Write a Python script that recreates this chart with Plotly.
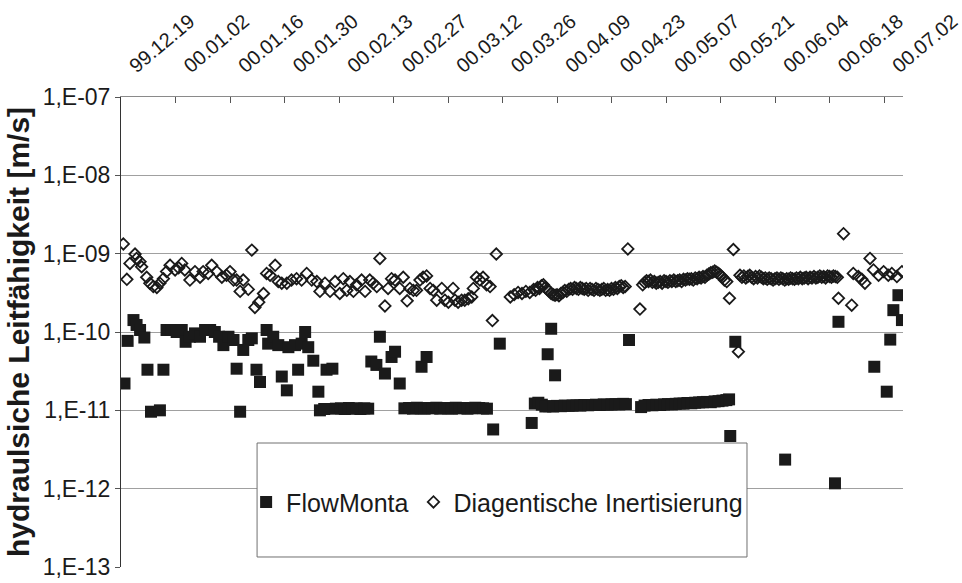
import pandas as pd
import plotly.graph_objects as go

START_DATE = "1999-12-19"
X_END = "2000-07-06 21:00"

TICK_DATES = ["1999-12-19", "2000-01-02", "2000-01-16", "2000-01-30", "2000-02-13",
              "2000-02-27", "2000-03-12", "2000-03-26", "2000-04-09", "2000-04-23",
              "2000-05-07", "2000-05-21", "2000-06-04", "2000-06-18", "2000-07-02"]
TICK_LABELS = ["99.12.19", "00.01.02", "00.01.16", "00.01.30", "00.02.13",
               "00.02.27", "00.03.12", "00.03.26", "00.04.09", "00.04.23",
               "00.05.07", "00.05.21", "00.06.04", "00.06.18", "00.07.02"]

Y_TICKS = [1e-13, 1e-12, 1e-11, 1e-10, 1e-9, 1e-8, 1e-7]
Y_LABELS = ["1,E-13", "1,E-12", "1,E-11", "1,E-10", "1,E-09", "1,E-08", "1,E-07"]

# FlowMonta: days since 1999-12-19 and hydraulic conductivity [m/s]
FLOW_DAYS = [
    0.9, 1.7, 3.2, 4.0, 4.9, 6.0, 6.8, 7.7, 10.0, 10.9, 11.7, 13.0, 14.3, 15.6, 16.6,
    17.7, 19.0, 20.3, 21.6, 22.9, 24.1, 25.2, 26.3, 27.6, 28.9, 29.7, 30.6, 31.4, 32.7,
    33.6, 34.8, 35.7, 37.4, 37.8, 39.1, 40.4, 41.3, 42.6, 43.0, 44.7, 45.5, 46.4, 47.3,
    48.1, 49.4, 50.7, 51.1, 52.2, 52.8, 54.3, 55.2, 56.5, 57.5, 58.5, 59.5, 60.5, 61.5,
    62.5, 63.5, 64.3, 65.6, 66.5, 67.8, 69.5, 70.4, 71.6, 72.8,
    74, 75, 76, 77, 78, 79, 80, 81, 82, 83, 84, 85, 86, 87, 88, 89, 90, 91, 92, 93, 94,
    77.2, 78.5, 95.6, 97.3, 105.5,
    106.3, 107.2, 108.1, 109, 110, 111, 112, 113, 114, 115, 116, 117, 118, 119, 120,
    121, 122, 123, 124, 125, 126, 127, 128, 129, 129.7,
    109.6, 110.5, 111.5, 130.5,
    133.6, 134.5, 135.5, 136.5, 137.5, 138.5, 139.5, 140.5, 141.5, 142.5, 143.5, 144.5,
    145.5, 146.5, 147.5, 148.5, 149.5, 150.5, 151.5, 152.5, 153.5, 154.5, 155.5, 156.2,
    156.5, 157.8, 170.6, 183.4, 184.3, 193.5, 196.7, 197.6, 198.4, 199.7, 200.6,
]
FLOW_VALUES = [
    2.2e-11, 7.7e-11, 1.42e-10, 1.23e-10, 1.06e-10, 8.5e-11, 3.3e-11, 9.6e-12, 1.0e-11,
    3.3e-11, 1.06e-10, 1.06e-10, 1.0e-10, 1.06e-10, 7.5e-11,
    8.7e-11, 9.6e-11, 8.7e-11, 1.06e-10, 1.06e-10, 1.0e-10, 8.7e-11, 6.8e-11, 8.7e-11,
    7.9e-11, 3.4e-11, 9.6e-12, 5.9e-11, 7.9e-11,
    8.3e-11, 3.3e-11, 2.3e-11, 1.06e-10, 7.1e-11, 8.7e-11, 6.8e-11, 2.7e-11, 1.8e-11,
    6.4e-11, 6.8e-11, 3.3e-11, 7.1e-11, 1.0e-10,
    6.4e-11, 4.3e-11, 1.73e-11, 1.0e-11, 1.04e-11, 3.3e-11, 3.4e-11, 1.05e-11, 1.06e-11,
    1.04e-11, 1.07e-11, 1.05e-11, 1.06e-11, 1.04e-11,
    1.06e-11, 1.05e-11, 4.2e-11, 3.8e-11, 8.7e-11, 2.95e-11, 4.8e-11, 5.6e-11, 2.2e-11, 1.06e-11,
    1.07e-11, 1.05e-11, 1.08e-11, 1.06e-11, 1.05e-11, 1.07e-11, 1.06e-11, 1.08e-11, 1.05e-11,
    1.07e-11, 1.06e-11, 1.05e-11, 1.08e-11, 1.06e-11, 1.07e-11, 1.05e-11, 1.06e-11, 1.08e-11,
    1.07e-11, 1.06e-11, 1.05e-11,
    3.6e-11, 4.8e-11, 5.7e-12, 7.1e-11, 6.9e-12,
    1.22e-11, 1.25e-11, 1.18e-11, 1.12e-11, 1.13e-11, 1.12e-11, 1.14e-11, 1.13e-11, 1.15e-11,
    1.14e-11, 1.15e-11, 1.16e-11, 1.15e-11, 1.17e-11, 1.16e-11,
    1.17e-11, 1.18e-11, 1.17e-11, 1.19e-11, 1.18e-11, 1.19e-11, 1.2e-11, 1.19e-11, 1.21e-11, 1.2e-11,
    5.2e-11, 1.1e-10, 2.8e-11, 7.9e-11,
    1.1e-11, 1.15e-11, 1.17e-11, 1.16e-11, 1.18e-11, 1.17e-11, 1.19e-11, 1.2e-11, 1.19e-11,
    1.21e-11, 1.22e-11, 1.22e-11,
    1.24e-11, 1.23e-11, 1.25e-11, 1.26e-11, 1.27e-11, 1.28e-11, 1.27e-11, 1.3e-11, 1.31e-11,
    1.33e-11, 1.35e-11, 1.38e-11,
    4.7e-12, 7.5e-11, 2.35e-12, 1.17e-12, 1.35e-10, 3.6e-11, 1.73e-11, 8.0e-11, 1.9e-10,
    2.95e-10, 1.42e-10,
]

# Diagentische Inertisierung: days since 1999-12-19 and hydraulic conductivity [m/s]
DIAG_DAYS = [
    0.6, 1.5, 2.3, 3.6, 4.0, 4.9, 5.3, 6.6, 7.4, 8.3, 9.2, 10.0, 10.9, 11.7, 12.6, 13.9,
    14.8, 15.6, 16.4, 17.7, 19.0, 20.3, 21.1, 22.4, 23.3, 24.6, 25.9, 27.1, 28.0, 28.9,
    29.7, 30.6, 31.4, 32.7, 33.6, 34.4, 35.4, 36.6, 37.4, 38.3, 39.6, 40.4, 41.3, 42.6,
    43.8, 45.1, 46.4, 47.7, 49.0, 50.3, 51.1,
    52.4, 53.7, 55.0, 56.2, 57.1, 58.0, 58.8, 59.7, 60.5, 61.8, 62.7, 63.9, 64.8, 65.7,
    66.5, 67.8, 68.6, 69.5, 70.4, 71.6, 72.5, 73.5, 74.2, 75.1, 75.9, 76.8, 77.6, 78.5,
    79.4, 80.2, 81.1, 82.4, 83.2, 84.1, 85.3, 85.8, 86.6, 87.5, 88.3, 89.2, 90.1, 90.5,
    91.3, 92.2, 93.0, 93.9, 94.8, 95.4, 96.4,
    100.0, 101.0, 102.0, 103.0, 104.0, 105.0, 106.0, 106.5, 107.0, 107.5, 108.0, 108.5,
    109.0, 109.5, 110.0, 110.5, 111.0, 111.5, 112.0, 112.5, 113.0, 113.5, 114.0, 114.5,
    115.0, 115.5, 116.0, 116.5, 117.0, 117.5, 118.0, 118.5, 119.0, 119.5, 120.0, 120.5,
    121.0, 121.5, 122.0, 122.5, 123.0, 123.5, 124.0, 124.5, 125.0, 125.5, 126.0, 126.5,
    127.0, 127.5, 128.0, 128.5, 129.0, 129.5, 130.2, 133.3,
    134.0, 134.5, 135.0, 135.5, 136.0, 136.5, 137.0, 137.5, 138.0, 138.5, 139.0, 139.5,
    140.0, 140.5, 141.0, 141.5, 142.0, 142.5, 143.0, 143.5, 144.0, 144.5, 145.0, 145.5,
    146.0, 146.5, 147.0, 147.5, 148.0, 148.5, 149.0, 149.5, 150.0, 150.5, 151.0, 151.5,
    152.0, 152.5, 153.0, 153.5, 154.0, 154.5, 155.0, 155.6, 156.3, 157.3, 158.6,
    159.0, 159.5, 160.0, 160.5, 161.0, 161.5, 162.0, 162.5, 163.0, 163.5, 164.0, 164.5,
    165.0, 165.5, 166.0, 166.5, 167.0, 167.5, 168.0, 168.5, 169.0, 169.5, 170.0, 170.5,
    171.0, 171.5, 172.0, 172.5, 173.0, 173.5, 174.0, 174.5, 175.0, 175.5, 176.0, 176.5,
    177.0, 177.5, 178.0, 178.5, 179.0, 179.5, 180.0, 180.5, 181.0, 181.5, 182.0, 182.5,
    183.0, 183.5, 184.0, 184.3, 185.6, 187.7, 188.1, 189.4, 190.3, 191.1, 192.4, 193.3,
    194.6, 195.9, 197.1, 198.0, 199.3, 200.6,
]
DIAG_VALUES = [
    1.33e-9, 4.7e-10, 7.5e-10, 9.9e-10, 8.7e-10, 7.9e-10, 6.8e-10, 5.0e-10, 4.2e-10, 3.8e-10,
    3.7e-10, 4.2e-10, 4.8e-10, 5.9e-10, 7.1e-10, 6.2e-10,
    6.6e-10, 7.5e-10, 6.2e-10, 4.6e-10, 5.9e-10, 5.0e-10, 5.9e-10, 5.6e-10, 7.1e-10, 5.9e-10,
    5.0e-10, 5.3e-10, 5.9e-10, 4.6e-10,
    4.6e-10, 3.3e-10, 4.6e-10, 3.5e-10, 1.11e-9, 2.06e-10, 2.4e-10, 3.1e-10, 5.6e-10, 5.3e-10,
    7.1e-10, 4.4e-10, 4.2e-10, 4.2e-10,
    4.6e-10, 4.8e-10, 4.6e-10, 5.6e-10, 4.6e-10, 4.4e-10, 3.3e-10,
    4.2e-10, 3.3e-10, 4.4e-10, 3.1e-10, 4.8e-10, 3.4e-10, 4.4e-10, 3.3e-10, 4.0e-10, 4.6e-10,
    3.3e-10, 4.6e-10, 4.2e-10, 3.8e-10,
    8.7e-10, 2.15e-10, 3.6e-10, 4.8e-10, 4.6e-10, 3.6e-10, 5.0e-10, 2.5e-10, 3.6e-10, 3.4e-10,
    3.4e-10, 4.6e-10, 5.0e-10, 5.2e-10,
    3.6e-10, 3.4e-10, 2.55e-10, 3.6e-10, 2.55e-10, 2.4e-10, 3.6e-10, 2.55e-10, 2.4e-10,
    2.55e-10, 2.55e-10, 2.65e-10, 2.8e-10, 3.6e-10,
    5.0e-10, 4.6e-10, 5.0e-10, 4.0e-10, 3.8e-10, 1.4e-10, 9.9e-10,
    2.8e-10, 3.0e-10, 3.2e-10, 3.1e-10, 3.3e-10, 3.2e-10, 3.5e-10, 3.4e-10, 3.7e-10, 3.6e-10,
    3.9e-10, 4.0e-10,
    3.7e-10, 3.5e-10, 3.3e-10, 3.1e-10, 3.0e-10, 2.95e-10, 3.0e-10, 2.9e-10, 3.1e-10, 3.2e-10,
    3.4e-10, 3.3e-10,
    3.5e-10, 3.6e-10, 3.5e-10, 3.7e-10, 3.6e-10, 3.5e-10, 3.7e-10, 3.6e-10, 3.5e-10, 3.6e-10,
    3.4e-10, 3.6e-10,
    3.5e-10, 3.4e-10, 3.6e-10, 3.5e-10, 3.4e-10, 3.5e-10, 3.6e-10, 3.4e-10, 3.5e-10, 3.4e-10,
    3.6e-10, 3.5e-10,
    3.7e-10, 3.6e-10, 3.8e-10, 3.9e-10, 3.7e-10, 3.8e-10, 1.15e-9, 1.96e-10,
    4.0e-10, 4.3e-10, 4.5e-10, 4.4e-10, 4.6e-10, 4.3e-10, 4.4e-10, 4.2e-10, 4.3e-10, 4.4e-10,
    4.2e-10, 4.5e-10,
    4.4e-10, 4.3e-10, 4.5e-10, 4.4e-10, 4.6e-10, 4.4e-10, 4.5e-10, 4.6e-10, 4.4e-10, 4.7e-10,
    4.6e-10, 4.8e-10,
    4.7e-10, 4.8e-10, 4.6e-10, 4.9e-10, 4.8e-10, 5.0e-10, 4.9e-10, 5.1e-10, 5.0e-10, 5.3e-10,
    5.5e-10, 5.7e-10,
    5.8e-10, 6.0e-10, 5.8e-10, 5.6e-10, 5.3e-10, 5.0e-10, 4.6e-10, 4.4e-10, 2.7e-10, 1.13e-9,
    5.6e-11,
    5.3e-10, 5.0e-10, 5.2e-10, 4.9e-10, 5.1e-10, 5.3e-10, 5.0e-10, 4.8e-10, 5.1e-10, 4.9e-10,
    5.2e-10, 5.0e-10,
    4.8e-10, 4.9e-10, 4.7e-10, 4.9e-10, 4.8e-10, 4.6e-10, 4.8e-10, 4.9e-10, 4.7e-10, 4.9e-10,
    4.8e-10, 4.6e-10,
    4.8e-10, 4.7e-10, 4.9e-10, 4.8e-10, 4.7e-10, 4.9e-10, 4.8e-10, 5.0e-10, 4.8e-10, 4.9e-10,
    5.0e-10, 4.8e-10,
    5.0e-10, 4.9e-10, 5.1e-10, 4.9e-10, 5.0e-10, 5.2e-10, 5.0e-10, 5.1e-10, 4.9e-10, 5.2e-10,
    5.1e-10, 5.0e-10,
    5.2e-10, 5.1e-10, 5.0e-10, 2.7e-10, 1.8e-9, 2.2e-10, 5.6e-10, 5.1e-10, 4.7e-10, 4.2e-10,
    8.7e-10, 6.2e-10,
    5.3e-10, 5.9e-10, 5.3e-10, 5.6e-10, 5.1e-10, 5.9e-10,
]

start = pd.Timestamp(START_DATE)
flow_x = start + pd.to_timedelta(FLOW_DAYS, unit="D")
diag_x = start + pd.to_timedelta(DIAG_DAYS, unit="D")

FONT = "Arial, 'Liberation Sans', sans-serif"

fig = go.Figure()
fig.add_trace(go.Scatter(
    x=flow_x, y=FLOW_VALUES, mode="markers", name="FlowMonta",
    marker=dict(symbol="square", size=12, color="#1a1a1a", line=dict(width=0)),
))
fig.add_trace(go.Scatter(
    x=diag_x, y=DIAG_VALUES, mode="markers", name="Diagentische Inertisierung",
    marker=dict(symbol="diamond-open", size=8.8, color="#1a1a1a",
                line=dict(width=1.8, color="#1a1a1a")),
))

# legend frame (drawn above the data, like the original)
fig.add_shape(type="rect", xref="paper", yref="paper",
              x0=0.174, x1=0.8005, y0=0.0213, y1=0.2638,
              fillcolor="white", line=dict(color="#707070", width=1), layer="above")

fig.update_layout(
    width=962, height=583,
    margin=dict(l=121, r=59, t=97, b=16),
    paper_bgcolor="white", plot_bgcolor="white",
    font=dict(family=FONT, color="black"),
    showlegend=True,
    legend=dict(orientation="h", x=0.16, y=0.138, xanchor="left", yanchor="middle",
                bgcolor="rgba(0,0,0,0)", borderwidth=0,
                font=dict(family=FONT, size=25, color="#1a1a1a")),
    xaxis=dict(
        type="date", side="top", range=[START_DATE, X_END],
        tickmode="array", tickvals=TICK_DATES, ticktext=TICK_LABELS,
        tickangle=-40, tickfont=dict(family=FONT, size=20, color="#1a1a1a"),
        ticklabelstandoff=12, ticklabelshift=9,
        ticks="inside", ticklen=6, tickcolor="#555555",
        showline=True, linecolor="#8a8a8a", linewidth=1,
        showgrid=False, zeroline=False, automargin=False,
    ),
    yaxis=dict(
        type="log", range=[-13, -7],
        tickmode="array", tickvals=Y_TICKS, ticktext=Y_LABELS,
        tickfont=dict(family=FONT, size=23, color="#1a1a1a"),
        ticks="outside", ticklen=5, tickcolor="#555555",
        showline=True, linecolor="#333333", linewidth=1,
        showgrid=True, gridcolor="#a0a0a0", gridwidth=1,
        zeroline=False,
        title=dict(text="<b>hydraulsiche Leitfähigkeit [m/s]</b>",
                   font=dict(family=FONT, size=30, color="#1a1a1a"), standoff=4),
        automargin=False,
    ),
)

fig.write_html("out.html", config={"displayModeBar": False},
               post_script="document.body.style.margin='0';document.body.style.padding='0';")
